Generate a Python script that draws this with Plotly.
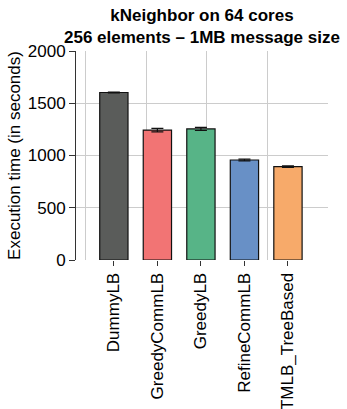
import plotly.graph_objects as go

# Load-balancer execution times (seconds) with error ranges
strategies = ["DummyLB", "GreedyCommLB", "GreedyLB", "RefineCommLB", "TMLB_TreeBased"]
exec_time = [1603, 1243, 1254, 957, 893]
exec_err = [4, 16, 15, 9, 8]
bar_colors = ["#5a5c5a", "#f27474", "#57b487", "#6890c6", "#f7aa6a"]

PLOT_TOP, PLOT_BOTTOM = 51, 260   # pixel rows of the plotting area
H = 409


def paper_y(px):
    return (PLOT_BOTTOM - px) / (PLOT_BOTTOM - PLOT_TOP)


fig = go.Figure()

fig.add_trace(go.Bar(
    x=strategies,
    y=exec_time,
    width=0.65,
    marker=dict(color=bar_colors, line=dict(color="#111111", width=1.2)),
    error_y=dict(type="data", array=exec_err, color="#111111", thickness=1.2, width=6),
    showlegend=False,
))

# invisible overlay axis that carries the vertical grid
fig.add_trace(go.Scatter(x=[0], y=[0], xaxis="x2", mode="markers",
                         marker=dict(opacity=0), showlegend=False, hoverinfo="skip"))

fig.add_annotation(
    text="<b>kNeighbor on 64 cores<br>256 elements \u2013 1MB message size</b>",
    xref="paper", yref="paper", x=0.5, y=paper_y(4),
    xanchor="center", yanchor="top", showarrow=False,
    font=dict(size=17), align="center",
)

fig.update_layout(
    width=347, height=H,
    margin=dict(l=76, r=19, t=PLOT_TOP, b=H - PLOT_BOTTOM),
    paper_bgcolor="white", plot_bgcolor="white",
    font=dict(family="Liberation Sans, Arial, sans-serif", size=17, color="black"),
    xaxis=dict(
        range=[-0.87, 4.92], showgrid=False, zeroline=False, automargin=False,
        tickangle=-90, ticks="outside", ticklen=5, tickcolor="#333333",
        showline=False, tickfont=dict(size=17),
    ),
    xaxis2=dict(
        overlaying="x", range=[-0.16, 4.0], dtick=1, tick0=0,
        showgrid=True, gridcolor="#cccccc", gridwidth=1,
        showticklabels=False, zeroline=False, showline=False,
    ),
    yaxis=dict(
        range=[0, 2000], dtick=500, showgrid=True, gridcolor="#cccccc", gridwidth=1,
        zeroline=False, showline=True, linecolor="#333333", linewidth=1,
        ticks="outside", ticklen=6, tickcolor="#333333", automargin=False,
        title=dict(text="Execution time (in seconds)", font=dict(size=17), standoff=2),
        tickfont=dict(size=17),
    ),
    bargap=0.35,
)

fig.write_html("out.html")
